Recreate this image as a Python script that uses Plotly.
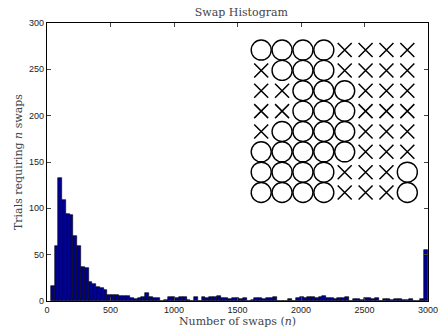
import numpy as np
import plotly.graph_objects as go

# Histogram: 100 bins spanning 30..3000 swaps
bin_start = 30
bin_end = 3000
counts = [16, 59, 133, 109, 94, 93, 70, 59, 37, 36,
          21, 18, 15, 14, 12, 7, 6, 6, 5, 5,
          5, 3, 2, 3, 4, 9, 4, 3, 3, 0,
          1, 4, 4, 3, 4, 4, 1, 0, 4, 0,
          4, 3, 4, 4, 5, 3, 3, 2, 3, 3,
          2, 3, 0, 1, 3, 3, 2, 3, 3, 4,
          0, 0, 0, 2, 0, 3, 4, 3, 4, 4,
          3, 4, 5, 3, 3, 2, 3, 3, 4, 0,
          2, 2, 1, 3, 3, 2, 3, 0, 2, 2,
          1, 2, 2, 1, 1, 2, 0, 0, 2, 55]

x_ticks = [0, 500, 1000, 1500, 2000, 2500, 3000]
y_ticks = [0, 50, 100, 150, 200, 250, 300]

# Inset board of O / X symbols
board = ["OOOOXXXX",
         "XOOOXXXX",
         "XXOOOXXX",
         "XXOOOXXX",
         "XOOOOXXX",
         "OOOOOXXX",
         "OOOOXXXO",
         "OOOOXXXO"]

n_bins = len(counts)
width = (bin_end - bin_start) / n_bins
centers = bin_start + width * (np.arange(n_bins) + 0.5)

fig = go.Figure()
fig.add_trace(go.Bar(
    x=centers, y=counts, width=width,
    marker=dict(color="#00008f", line=dict(color="black", width=0.6)),
    showlegend=False, hoverinfo="x+y"))

ox, oy, xx, xy = [], [], [], []
for r, row in enumerate(board):
    for c, ch in enumerate(row):
        if ch == "O":
            ox.append(c); oy.append(r)
        else:
            xx.append(c); xy.append(r)

fig.add_trace(go.Scatter(
    x=ox, y=oy, mode="markers", xaxis="x2", yaxis="y2",
    marker=dict(symbol="circle-open", size=20, color="black",
                line=dict(width=1.4, color="black")),
    showlegend=False, hoverinfo="skip"))
fig.add_trace(go.Scatter(
    x=xx, y=xy, mode="markers", xaxis="x2", yaxis="y2",
    marker=dict(symbol="x-thin-open", size=14, color="black",
                line=dict(width=1.5, color="black")),
    showlegend=False, hoverinfo="skip"))

tickfont = dict(family="Liberation Sans, Arial, sans-serif", size=9, color="#222")
serif = dict(family="DejaVu Serif, Liberation Serif, serif", size=11, color="#444")

fig.update_layout(
    width=447, height=335,
    margin=dict(l=47, r=9, t=23, b=27),
    paper_bgcolor="white", plot_bgcolor="white",
    bargap=0,
    title=dict(text="Swap Histogram", x=0.54, xanchor="center", y=0.965,
               yanchor="middle", font=dict(family="DejaVu Serif, Liberation Serif, serif",
                                           size=11, color="#444")),
    xaxis=dict(range=[0, 3000], tickvals=x_ticks, ticks="inside", ticklen=4,
               showline=True, linecolor="black", linewidth=1.3, mirror="allticks",
               showgrid=False, zeroline=False, tickfont=tickfont,
               ticklabeloverflow="allow",
               title=dict(text="Number of swaps (<i>n</i>)", font=serif, standoff=3)),
    yaxis=dict(range=[0, 300], tickvals=y_ticks, ticks="inside", ticklen=4,
               showline=True, linecolor="black", linewidth=1.3, mirror="allticks",
               showgrid=False, zeroline=False, tickfont=tickfont,
               ticklabeloverflow="allow",
               title=dict(text="Trials requiring <i>n</i> swaps", font=serif, standoff=4)),
    xaxis2=dict(domain=[0, 1], range=[-10.26, 7.99], overlaying="x", anchor="y2",
                visible=False, fixedrange=True),
    yaxis2=dict(domain=[0, 1], range=[12.33, -1.33], overlaying="y", anchor="x2",
                visible=False, fixedrange=True),
)

fig.write_html("out.html")
